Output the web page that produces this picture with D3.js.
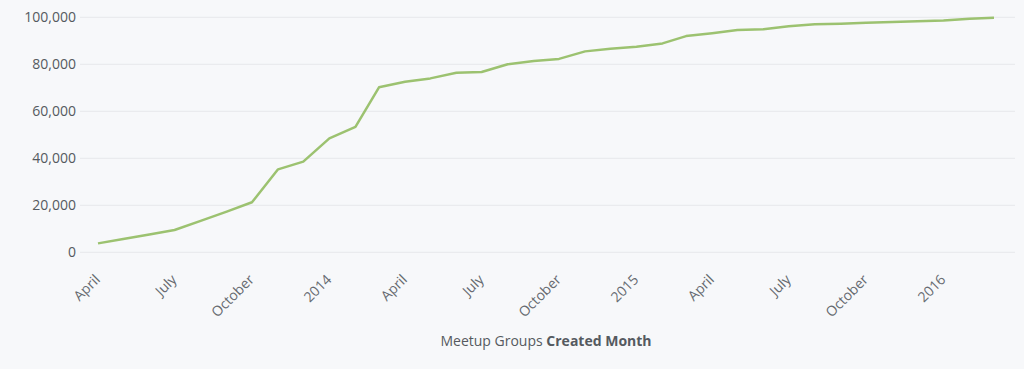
<!DOCTYPE html>
<html><head><meta charset="utf-8">
<script src="https://cdn.jsdelivr.net/npm/d3@7/dist/d3.min.js"></script>
<style>
html,body{margin:0;padding:0;background:#f7f8fa;}
svg{display:block;font-family:"Open Sans",sans-serif;}
</style></head><body>
<svg id="c" width="1024" height="369"></svg>
<script>
const months = ["2013-04","2013-05","2013-06","2013-07","2013-08","2013-09","2013-10","2013-11","2013-12",
"2014-01","2014-02","2014-03","2014-04","2014-05","2014-06","2014-07","2014-08","2014-09","2014-10","2014-11","2014-12",
"2015-01","2015-02","2015-03","2015-04","2015-05","2015-06","2015-07","2015-08","2015-09","2015-10","2015-11","2015-12",
"2016-01","2016-02","2016-03"];
const groups = [3800,5700,7600,9500,13400,17300,21300,35300,38600,
48500,53400,70200,72600,74000,76400,76700,80000,81400,82300,85500,86600,
87500,88900,92000,93200,94600,94900,96200,97000,97300,97700,98000,98300,
98600,99400,99800];
const yTicks = [0,20000,40000,60000,80000,100000];
const xTickLabels = ["April","July","October","2014","April","July","October","2015","April","July","October","2016"];
const xTickDates = ["2013-04","2013-07","2013-10","2014-01","2014-04","2014-07","2014-10","2015-01","2015-04","2015-07","2015-10","2016-01"];

const parse = d3.timeParse("%Y-%m");
const data = months.map((m,i)=>({d:parse(m),v:groups[i]}));
const svg = d3.select("#c");

const x = d3.scaleTime().domain([parse("2013-04"),parse("2016-03")]).range([98,994]);
const y = d3.scaleLinear().domain([0,100000]).range([252.3,17.3]);

// grid
svg.append("g").selectAll("line").data(yTicks).join("line")
  .attr("x1",80).attr("x2",1015)
  .attr("y1",d=>y(d)).attr("y2",d=>y(d))
  .attr("stroke","#e6e8eb").attr("stroke-width",1);

// y axis
const yAxis = d3.axisLeft(y).tickValues(yTicks).tickFormat(d3.format(",")).tickSize(0).tickPadding(0);
const gy = svg.append("g").attr("transform","translate(76,0)").call(yAxis);
gy.select(".domain").remove();
gy.selectAll("text").attr("font-size",14).attr("fill","#555a60").attr("font-family","Open Sans");

// x axis
const xAxis = d3.axisBottom(x).tickValues(xTickDates.map(parse))
  .tickFormat((d,i)=>xTickLabels[i]).tickSize(0).tickPadding(0);
const gx = svg.append("g").attr("transform","translate(-1,277)").call(xAxis);
gx.select(".domain").remove();
gx.selectAll("text").attr("font-size",14).attr("fill","#666a70").attr("font-family","Open Sans")
  .attr("text-anchor","end").attr("dy","0.35em").attr("y",0).attr("x",0)
  .attr("transform","rotate(-45)");

// line
svg.append("path").datum(data)
  .attr("fill","none").attr("stroke","#9cc270").attr("stroke-width",2.5)
  .attr("stroke-linejoin","round")
  .attr("d",d3.line().x(d=>x(d.d)).y(d=>y(d.v)));

// x title
const t = svg.append("text").attr("x",546).attr("y",346).attr("text-anchor","middle")
  .attr("font-size",14).attr("fill","#555a60");
t.append("tspan").text("Meetup Groups ");
t.append("tspan").attr("font-weight","bold").text("Created Month");
</script>
</body></html>
